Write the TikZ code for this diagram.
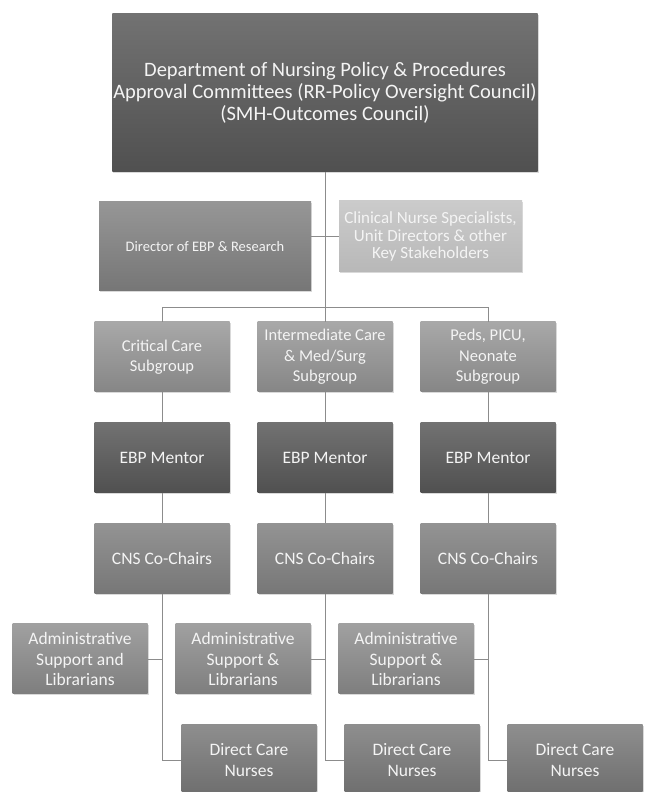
\documentclass[tikz,border=0pt]{standalone}
\usepackage{fontspec}
\setmainfont{Carlito}
\usetikzlibrary{shadows}

\definecolor{linkgray}{HTML}{8C8C8C}
\definecolor{txtgray}{HTML}{F4F4F4}

\begin{document}
\begin{tikzpicture}[x=1pt, y=1pt,
        box/.style={rectangle, inner sep=1pt, align=center, text=txtgray,
            drop shadow={shadow xshift=1pt, shadow yshift=-1.5pt, opacity=0.3},
            minimum width=135pt, minimum height=70pt,
            font=\fontsize{17.5}{20.5}\selectfont},
        darkbox/.style={box, top color={rgb,255:red,114;green,114;blue,114}, bottom color={rgb,255:red,80;green,80;blue,80}},
        dirbox/.style={box, top color={rgb,255:red,150;green,150;blue,150}, bottom color={rgb,255:red,118;green,118;blue,118}},
        lightbox/.style={box, top color={rgb,255:red,203;green,203;blue,203}, bottom color={rgb,255:red,184;green,184;blue,184}},
        subbox/.style={box, top color={rgb,255:red,168;green,168;blue,168}, bottom color={rgb,255:red,134;green,134;blue,134}},
        cnsbox/.style={box, top color={rgb,255:red,147;green,147;blue,147}, bottom color={rgb,255:red,119;green,119;blue,119}},
        admbox/.style={box, top color={rgb,255:red,160;green,160;blue,160}, bottom color={rgb,255:red,126;green,126;blue,126}},
        dcbox/.style={box, top color={rgb,255:red,142;green,142;blue,142}, bottom color={rgb,255:red,110;green,110;blue,110}},
        link/.style={draw=linkgray, line width=0.9pt}]
    \useasboundingbox (0,0) rectangle (647,792);

    % Approval committees (top, dark)
    \node[darkbox, minimum width=424pt, minimum height=158pt,
        font=\fontsize{20.5}{22}\selectfont] (top) at (325,699)
        {Department of Nursing Policy \& Procedures\\Approval Committees (RR-Policy Oversight Council)\\(SMH-Outcomes Council)};

    % Director and stakeholders
    \node[dirbox, minimum width=212pt, minimum height=89pt,
        font=\fontsize{14.5}{17}\selectfont] (dir) at (205,545.5) {Director of EBP \& Research};
    \node[lightbox, minimum width=183pt, minimum height=71pt,
        font=\fontsize{17}{17.5}\selectfont] (key) at (430.5,555.5)
        {Clinical Nurse Specialists,\\Unit Directors \& other\\Key Stakeholders};

    % Subgroups
    \node[subbox, font=\fontsize{16.5}{20.5}\selectfont] (sub1) at (162,435) {Critical Care\\Subgroup};
    \node[subbox, font=\fontsize{16.5}{20.5}\selectfont] (sub2) at (325,435) {Intermediate Care\\\& Med/Surg\\Subgroup};
    \node[subbox, font=\fontsize{16.5}{20.5}\selectfont] (sub3) at (488,435) {Peds, PICU,\\Neonate\\Subgroup};

    % Mentors, co-chairs and nurses per column
    \foreach \i/\x in {1/162, 2/325, 3/488} {
        \node[darkbox] (ebp\i) at (\x,334.5) {EBP Mentor};
        \node[cnsbox] (cns\i) at (\x,233.5) {CNS Co-Chairs};
        \node[dcbox] (dc\i) at (\x+87,32) {Direct Care\\Nurses};
    }

    % Administrative support (left of each column)
    \node[admbox] (adm1) at (80,133) {Administrative\\Support and\\Librarians};
    \foreach \i/\x in {2/243, 3/406} {
        \node[admbox] (adm\i) at (\x,133) {Administrative\\Support \&\\Librarians};
    }

    % Connectors
    \coordinate (bar) at (325,485);
    \draw[link] (top.south) -- (top.south |- bar);
    \draw[link] (key.west) -- (key.west -| dir.east);
    \foreach \i in {1,2,3} {
        \draw[link] (sub\i.north) |- (bar);
        \draw[link] (sub\i) -- (ebp\i) -- (cns\i);
        \draw[link] (cns\i.south) |- (dc\i.west);
        \draw[link] (adm\i.east) -- (adm\i.east -| cns\i.south);
    }

\end{tikzpicture}
\end{document}
